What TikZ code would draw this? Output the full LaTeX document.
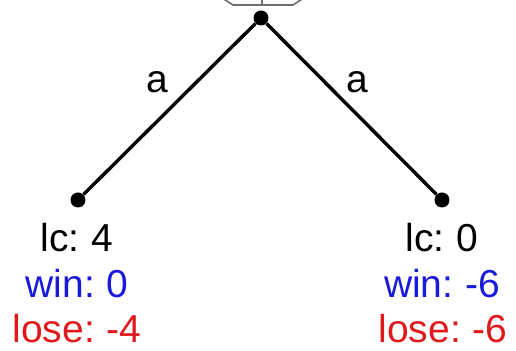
\documentclass[tikz,border=0pt]{standalone}
\usepackage{fontspec}
\setmainfont[WordSpace=0.75]{Liberation Sans}
\usetikzlibrary{positioning}
\definecolor{winblue}{HTML}{1A1AD9}
\definecolor{losered}{HTML}{E0191C}
\definecolor{hexgray}{HTML}{6E6E6E}

\begin{document}
\begin{tikzpicture}[
    x=0.5pt, y=-0.5pt,
    % --- node styles ---
    treenode/.style={
        circle, fill=black, minimum size=7.5pt, inner sep=0pt
    },
    edge/.style={line width=1.7pt, color=black},
    edgelabel/.style={font=\fontsize{19.5}{22}\selectfont, inner sep=0pt},
    leaftext/.style={font=\fontsize{19.5}{22}\selectfont, anchor=base, inner sep=0pt},
]
\useasboundingbox (0,0) rectangle (516,351);
\clip (0,0) rectangle (516,351);

% ===== ROOT (label box cut off at the top) =====
\draw[hexgray, line width=0.8pt]
    (233,5) -- (293,5) -- (310,-6) -- (293,-17) -- (233,-17) -- (216,-6) -- cycle;
\draw[hexgray, line width=0.8pt] (262,5) -- (262,-17);
\node[treenode] (root) at (261,18) {};

% ===== LEAVES =====
\node[treenode] (leftleaf) at (78,200) {};
\node[treenode] (rightleaf) at (442,200) {};

\draw[edge] (root) -- (leftleaf)
    node[edgelabel, midway, xshift=-6pt, yshift=13.5pt] (leftlabel) {a};
\draw[edge] (root) -- (rightleaf)
    node[edgelabel, midway, xshift=3pt, yshift=13.5pt] (rightlabel) {a};

% ===== LEAF VALUES =====
\node[leaftext] (leftlc) at (77,252) {lc: 4};
\node[leaftext, text=winblue] (leftwin) at (77,298) {win: 0};
\node[leaftext, text=losered] (leftlose) at (77,343) {lose: -4};

\node[leaftext] (rightlc) at (442,252) {lc: 0};
\node[leaftext, text=winblue] (rightwin) at (442,298) {win: -6};
\node[leaftext, text=losered] (rightlose) at (443,343) {lose: -6};

\end{tikzpicture}
\end{document}
